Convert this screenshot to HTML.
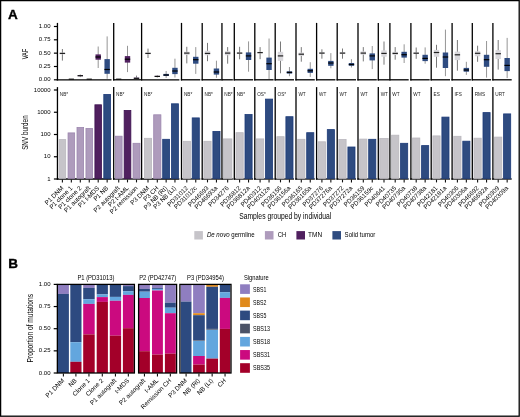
<!DOCTYPE html>
<html><head><meta charset="utf-8"><title>figure</title>
<style>html,body{margin:0;padding:0;background:#fff;}body{width:520px;height:417px;overflow:hidden;}</style>
</head><body>
<svg width="520" height="417" viewBox="0 0 520 417" style="display:block;font-family:'Liberation Sans', sans-serif;filter:blur(0.3px)">
<rect x="0" y="0" width="520" height="417" fill="#fff"/>
<text transform="translate(7.9,18.6)" font-size="13.5" text-anchor="start" fill="#000" font-weight="bold" stroke="#000" stroke-width="0.35">A</text>
<line x1="53.9" y1="26.5" x2="57.4" y2="26.5" stroke="#000" stroke-width="1.2"/>
<text transform="translate(50.5,28.1)" font-size="6" text-anchor="end" fill="#000">1.00</text>
<line x1="53.9" y1="39.8" x2="57.4" y2="39.8" stroke="#000" stroke-width="1.2"/>
<text transform="translate(50.5,41.4)" font-size="6" text-anchor="end" fill="#000">0.75</text>
<line x1="53.9" y1="53.15" x2="57.4" y2="53.15" stroke="#000" stroke-width="1.2"/>
<text transform="translate(50.5,54.75)" font-size="6" text-anchor="end" fill="#000">0.50</text>
<line x1="53.9" y1="66.5" x2="57.4" y2="66.5" stroke="#000" stroke-width="1.2"/>
<text transform="translate(50.5,68.1)" font-size="6" text-anchor="end" fill="#000">0.25</text>
<line x1="53.9" y1="79.8" x2="57.4" y2="79.8" stroke="#000" stroke-width="1.2"/>
<text transform="translate(50.5,81.4)" font-size="6" text-anchor="end" fill="#000">0.00</text>
<line x1="53.9" y1="90" x2="57.4" y2="90" stroke="#000" stroke-width="1.2"/>
<text transform="translate(50.5,91.6)" font-size="6" text-anchor="end" fill="#000">10000</text>
<line x1="53.9" y1="112.25" x2="57.4" y2="112.25" stroke="#000" stroke-width="1.2"/>
<text transform="translate(50.5,113.85)" font-size="6" text-anchor="end" fill="#000">1000</text>
<line x1="53.9" y1="134.5" x2="57.4" y2="134.5" stroke="#000" stroke-width="1.2"/>
<text transform="translate(50.5,136.1)" font-size="6" text-anchor="end" fill="#000">100</text>
<line x1="53.9" y1="156.75" x2="57.4" y2="156.75" stroke="#000" stroke-width="1.2"/>
<text transform="translate(50.5,158.35)" font-size="6" text-anchor="end" fill="#000">10</text>
<line x1="53.9" y1="179" x2="57.4" y2="179" stroke="#000" stroke-width="1.2"/>
<text transform="translate(50.5,180.6)" font-size="6" text-anchor="end" fill="#000">1</text>
<text transform="translate(28.3,54) rotate(-90) scale(0.6682,1)" font-size="8.4" text-anchor="middle" fill="#000">VAF</text>
<text transform="translate(28.3,132.6) rotate(-90) scale(0.7652,1)" font-size="8.3" text-anchor="middle" fill="#000">SNV burden</text>
<line x1="57.45" y1="22.9" x2="57.45" y2="80.45" stroke="#000" stroke-width="1.3"/>
<line x1="57.45" y1="87.1" x2="57.45" y2="179.65" stroke="#000" stroke-width="1.3"/>
<line x1="56.8" y1="79.8" x2="111.5" y2="79.8" stroke="#000" stroke-width="1.3"/>
<line x1="56.8" y1="179" x2="111.5" y2="179" stroke="#000" stroke-width="1.3"/>
<text transform="translate(59.85,95.6)" font-size="4.7" text-anchor="start" fill="#222">NB*</text>
<rect x="59.1" y="139.6" width="6.6" height="38.75" fill="#c6c4c9" stroke="#b9b7bd" stroke-width="0.8"/>
<line x1="62.4" y1="179.6" x2="62.4" y2="182.4" stroke="#111" stroke-width="1.1"/>
<line x1="62.4" y1="49" x2="62.4" y2="60.6" stroke="#6a6a6a" stroke-width="0.9"/>
<rect x="59.7" y="52.6" width="5.4" height="1.7" fill="#d9d8dc"/>
<line x1="59.7" y1="53.4" x2="65.1" y2="53.4" stroke="#222" stroke-width="1.2"/>
<rect x="68.05" y="132.9" width="6.6" height="45.45" fill="#ae9bbc" stroke="#9c86ae" stroke-width="0.8"/>
<line x1="71.35" y1="179.6" x2="71.35" y2="182.4" stroke="#111" stroke-width="1.1"/>
<line x1="68.75" y1="79.2" x2="73.95" y2="79.2" stroke="#111" stroke-width="1.2"/>
<rect x="77" y="127.5" width="6.6" height="50.85" fill="#ae9bbc" stroke="#9c86ae" stroke-width="0.8"/>
<line x1="80.3" y1="179.6" x2="80.3" y2="182.4" stroke="#111" stroke-width="1.1"/>
<line x1="80.3" y1="74.5" x2="80.3" y2="77.1" stroke="#777" stroke-width="0.9"/>
<rect x="77.6" y="75.1" width="5.4" height="1.2" fill="#ae9bbc"/>
<line x1="77.6" y1="75.7" x2="83" y2="75.7" stroke="#111" stroke-width="1.2"/>
<rect x="85.95" y="128.5" width="6.6" height="49.85" fill="#ae9bbc" stroke="#9c86ae" stroke-width="0.8"/>
<line x1="89.25" y1="179.6" x2="89.25" y2="182.4" stroke="#111" stroke-width="1.1"/>
<line x1="86.65" y1="79.2" x2="91.85" y2="79.2" stroke="#111" stroke-width="1.2"/>
<rect x="94.9" y="104.8" width="6.6" height="73.55" fill="#50205f" stroke="#3d1150" stroke-width="0.8"/>
<line x1="98.2" y1="179.6" x2="98.2" y2="182.4" stroke="#111" stroke-width="1.1"/>
<line x1="98.2" y1="46.5" x2="98.2" y2="68" stroke="#8a8a8a" stroke-width="0.9"/>
<rect x="95.5" y="54.4" width="5.4" height="5.3" fill="#50205f"/>
<line x1="95.5" y1="57" x2="100.9" y2="57" stroke="#000" stroke-width="1.2"/>
<rect x="103.8" y="94.4" width="6.7" height="83.95" fill="#2e4b80" stroke="#1c3a78" stroke-width="0.8"/>
<line x1="107.15" y1="179.6" x2="107.15" y2="182.4" stroke="#111" stroke-width="1.1"/>
<line x1="107.15" y1="36.4" x2="107.15" y2="78.8" stroke="#8a8a8a" stroke-width="0.9"/>
<rect x="104.45" y="59.1" width="5.4" height="14.7" fill="#2e4b80"/>
<line x1="104.45" y1="69.5" x2="109.85" y2="69.5" stroke="#000" stroke-width="1.2"/>
<line x1="113.7" y1="22.9" x2="113.7" y2="80.45" stroke="#000" stroke-width="1.3"/>
<line x1="113.7" y1="87.1" x2="113.7" y2="179.65" stroke="#000" stroke-width="1.3"/>
<line x1="113.05" y1="79.8" x2="140.95" y2="79.8" stroke="#000" stroke-width="1.3"/>
<line x1="113.05" y1="179" x2="140.95" y2="179" stroke="#000" stroke-width="1.3"/>
<text transform="translate(116.1,95.6)" font-size="4.7" text-anchor="start" fill="#222">NB*</text>
<rect x="115.35" y="136.2" width="6.75" height="42.15" fill="#ae9bbc" stroke="#9c86ae" stroke-width="0.8"/>
<line x1="118.72" y1="179.6" x2="118.72" y2="182.4" stroke="#111" stroke-width="1.1"/>
<line x1="116.12" y1="79.2" x2="121.32" y2="79.2" stroke="#111" stroke-width="1.2"/>
<rect x="124.15" y="110.4" width="6.7" height="67.95" fill="#50205f" stroke="#3d1150" stroke-width="0.8"/>
<line x1="127.5" y1="179.6" x2="127.5" y2="182.4" stroke="#111" stroke-width="1.1"/>
<line x1="127.5" y1="45.8" x2="127.5" y2="72.1" stroke="#8a8a8a" stroke-width="0.9"/>
<rect x="124.8" y="56.1" width="5.4" height="6.5" fill="#50205f"/>
<line x1="124.8" y1="59.2" x2="130.2" y2="59.2" stroke="#000" stroke-width="1.2"/>
<rect x="133.05" y="143.3" width="6.9" height="35.05" fill="#ae9bbc" stroke="#9c86ae" stroke-width="0.8"/>
<line x1="136.5" y1="179.6" x2="136.5" y2="182.4" stroke="#111" stroke-width="1.1"/>
<line x1="136.5" y1="75.6" x2="136.5" y2="79" stroke="#777" stroke-width="0.9"/>
<rect x="133.8" y="77.4" width="5.4" height="1.6" fill="#ae9bbc"/>
<line x1="133.8" y1="78.3" x2="139.2" y2="78.3" stroke="#111" stroke-width="1.2"/>
<line x1="141.6" y1="22.9" x2="141.6" y2="80.45" stroke="#000" stroke-width="1.3"/>
<line x1="141.6" y1="87.1" x2="141.6" y2="179.65" stroke="#000" stroke-width="1.3"/>
<line x1="140.95" y1="79.8" x2="179.4" y2="79.8" stroke="#000" stroke-width="1.3"/>
<line x1="140.95" y1="179" x2="179.4" y2="179" stroke="#000" stroke-width="1.3"/>
<text transform="translate(144,95.6)" font-size="4.7" text-anchor="start" fill="#222">NB*</text>
<rect x="144.4" y="138.3" width="7.2" height="40.05" fill="#c6c4c9" stroke="#b9b7bd" stroke-width="0.8"/>
<line x1="148" y1="179.6" x2="148" y2="182.4" stroke="#111" stroke-width="1.1"/>
<line x1="148" y1="48.6" x2="148" y2="58" stroke="#6a6a6a" stroke-width="0.9"/>
<rect x="145.3" y="52.6" width="5.4" height="1.7" fill="#d9d8dc"/>
<line x1="145.3" y1="53.4" x2="150.7" y2="53.4" stroke="#222" stroke-width="1.2"/>
<rect x="153.7" y="114.8" width="7.2" height="63.55" fill="#ae9bbc" stroke="#9c86ae" stroke-width="0.8"/>
<line x1="157.3" y1="179.6" x2="157.3" y2="182.4" stroke="#111" stroke-width="1.1"/>
<line x1="157.3" y1="75.3" x2="157.3" y2="77.5" stroke="#777" stroke-width="0.9"/>
<rect x="154.6" y="75.8" width="5.4" height="1.2" fill="#ae9bbc"/>
<line x1="154.6" y1="76.4" x2="160" y2="76.4" stroke="#111" stroke-width="1.2"/>
<rect x="162.7" y="139.3" width="6.9" height="39.05" fill="#2e4b80" stroke="#1c3a78" stroke-width="0.8"/>
<line x1="166.15" y1="179.6" x2="166.15" y2="182.4" stroke="#111" stroke-width="1.1"/>
<line x1="166.15" y1="71" x2="166.15" y2="77.9" stroke="#8a8a8a" stroke-width="0.9"/>
<rect x="163.45" y="73.9" width="5.4" height="2.1" fill="#2e4b80"/>
<line x1="163.45" y1="75" x2="168.85" y2="75" stroke="#000" stroke-width="1.2"/>
<rect x="171.5" y="103.8" width="6.9" height="74.55" fill="#2e4b80" stroke="#1c3a78" stroke-width="0.8"/>
<line x1="174.95" y1="179.6" x2="174.95" y2="182.4" stroke="#111" stroke-width="1.1"/>
<line x1="174.95" y1="58.7" x2="174.95" y2="77.5" stroke="#8a8a8a" stroke-width="0.9"/>
<rect x="172.25" y="67.8" width="5.4" height="6.3" fill="#2e4b80"/>
<line x1="172.25" y1="71" x2="177.65" y2="71" stroke="#000" stroke-width="1.2"/>
<line x1="181.5" y1="22.9" x2="181.5" y2="80.45" stroke="#000" stroke-width="1.3"/>
<line x1="181.5" y1="87.1" x2="181.5" y2="179.65" stroke="#000" stroke-width="1.3"/>
<line x1="180.85" y1="79.8" x2="200.3" y2="79.8" stroke="#000" stroke-width="1.3"/>
<line x1="180.85" y1="179" x2="200.3" y2="179" stroke="#000" stroke-width="1.3"/>
<text transform="translate(183.9,95.6)" font-size="4.7" text-anchor="start" fill="#222">NB*</text>
<rect x="183.2" y="141.3" width="7.2" height="37.05" fill="#c6c4c9" stroke="#b9b7bd" stroke-width="0.8"/>
<line x1="186.8" y1="179.6" x2="186.8" y2="182.4" stroke="#111" stroke-width="1.1"/>
<line x1="186.8" y1="46.8" x2="186.8" y2="63.4" stroke="#6a6a6a" stroke-width="0.9"/>
<rect x="184.1" y="51.7" width="5.4" height="3.2" fill="#d9d8dc"/>
<line x1="184.1" y1="53.1" x2="189.5" y2="53.1" stroke="#222" stroke-width="1.2"/>
<rect x="192.2" y="117.9" width="7.1" height="60.45" fill="#2e4b80" stroke="#1c3a78" stroke-width="0.8"/>
<line x1="195.75" y1="179.6" x2="195.75" y2="182.4" stroke="#111" stroke-width="1.1"/>
<line x1="195.75" y1="47.1" x2="195.75" y2="73.9" stroke="#8a8a8a" stroke-width="0.9"/>
<rect x="193.05" y="56.8" width="5.4" height="6.9" fill="#2e4b80"/>
<line x1="193.05" y1="59.7" x2="198.45" y2="59.7" stroke="#000" stroke-width="1.2"/>
<line x1="202.2" y1="22.9" x2="202.2" y2="80.45" stroke="#000" stroke-width="1.3"/>
<line x1="202.2" y1="87.1" x2="202.2" y2="179.65" stroke="#000" stroke-width="1.3"/>
<line x1="201.55" y1="79.8" x2="221" y2="79.8" stroke="#000" stroke-width="1.3"/>
<line x1="201.55" y1="179" x2="221" y2="179" stroke="#000" stroke-width="1.3"/>
<text transform="translate(204.6,95.6)" font-size="4.7" text-anchor="start" fill="#222">NB*</text>
<rect x="203.9" y="141.3" width="7.2" height="37.05" fill="#c6c4c9" stroke="#b9b7bd" stroke-width="0.8"/>
<line x1="207.5" y1="179.6" x2="207.5" y2="182.4" stroke="#111" stroke-width="1.1"/>
<line x1="207.5" y1="42.9" x2="207.5" y2="61.2" stroke="#6a6a6a" stroke-width="0.9"/>
<rect x="204.8" y="50.8" width="5.4" height="4.5" fill="#d9d8dc"/>
<line x1="204.8" y1="53.4" x2="210.2" y2="53.4" stroke="#222" stroke-width="1.2"/>
<rect x="212.9" y="131.4" width="7.1" height="46.95" fill="#2e4b80" stroke="#1c3a78" stroke-width="0.8"/>
<line x1="216.45" y1="179.6" x2="216.45" y2="182.4" stroke="#111" stroke-width="1.1"/>
<line x1="216.45" y1="60.7" x2="216.45" y2="77.8" stroke="#8a8a8a" stroke-width="0.9"/>
<rect x="213.75" y="68.5" width="5.4" height="6.1" fill="#2e4b80"/>
<line x1="213.75" y1="72" x2="219.15" y2="72" stroke="#000" stroke-width="1.2"/>
<line x1="221.95" y1="22.9" x2="221.95" y2="80.45" stroke="#000" stroke-width="1.3"/>
<line x1="221.95" y1="87.1" x2="221.95" y2="179.65" stroke="#000" stroke-width="1.3"/>
<line x1="221.3" y1="79.8" x2="232.85" y2="79.8" stroke="#000" stroke-width="1.3"/>
<line x1="221.3" y1="179" x2="232.85" y2="179" stroke="#000" stroke-width="1.3"/>
<text transform="translate(224.35,95.6)" font-size="4.7" text-anchor="start" fill="#222">NB*</text>
<rect x="223.45" y="138.9" width="8.4" height="39.45" fill="#c6c4c9" stroke="#b9b7bd" stroke-width="0.8"/>
<line x1="227.65" y1="179.6" x2="227.65" y2="182.4" stroke="#111" stroke-width="1.1"/>
<line x1="227.65" y1="47.1" x2="227.65" y2="63.7" stroke="#6a6a6a" stroke-width="0.9"/>
<rect x="224.95" y="51.2" width="5.4" height="4.1" fill="#d9d8dc"/>
<line x1="224.95" y1="53.1" x2="230.35" y2="53.1" stroke="#222" stroke-width="1.2"/>
<line x1="234.3" y1="22.9" x2="234.3" y2="80.45" stroke="#000" stroke-width="1.3"/>
<line x1="234.3" y1="87.1" x2="234.3" y2="179.65" stroke="#000" stroke-width="1.3"/>
<line x1="233.65" y1="79.8" x2="253.1" y2="79.8" stroke="#000" stroke-width="1.3"/>
<line x1="233.65" y1="179" x2="253.1" y2="179" stroke="#000" stroke-width="1.3"/>
<text transform="translate(236.7,95.6)" font-size="4.7" text-anchor="start" fill="#222">NB*</text>
<rect x="236" y="132.7" width="7.2" height="45.65" fill="#c6c4c9" stroke="#b9b7bd" stroke-width="0.8"/>
<line x1="239.6" y1="179.6" x2="239.6" y2="182.4" stroke="#111" stroke-width="1.1"/>
<line x1="239.6" y1="46.8" x2="239.6" y2="59.3" stroke="#6a6a6a" stroke-width="0.9"/>
<rect x="236.9" y="52.3" width="5.4" height="1.7" fill="#d9d8dc"/>
<line x1="236.9" y1="53.1" x2="242.3" y2="53.1" stroke="#222" stroke-width="1.2"/>
<rect x="245" y="114.5" width="7.1" height="63.85" fill="#2e4b80" stroke="#1c3a78" stroke-width="0.8"/>
<line x1="248.55" y1="179.6" x2="248.55" y2="182.4" stroke="#111" stroke-width="1.1"/>
<line x1="248.55" y1="41.4" x2="248.55" y2="71.7" stroke="#8a8a8a" stroke-width="0.9"/>
<rect x="245.85" y="52.4" width="5.4" height="7.6" fill="#2e4b80"/>
<line x1="245.85" y1="55.9" x2="251.25" y2="55.9" stroke="#000" stroke-width="1.2"/>
<line x1="254.8" y1="22.9" x2="254.8" y2="80.45" stroke="#000" stroke-width="1.3"/>
<line x1="254.8" y1="87.1" x2="254.8" y2="179.65" stroke="#000" stroke-width="1.3"/>
<line x1="254.15" y1="79.8" x2="273.6" y2="79.8" stroke="#000" stroke-width="1.3"/>
<line x1="254.15" y1="179" x2="273.6" y2="179" stroke="#000" stroke-width="1.3"/>
<text transform="translate(257.2,95.6)" font-size="4.7" text-anchor="start" fill="#222">OS*</text>
<rect x="256.5" y="138.9" width="7.2" height="39.45" fill="#c6c4c9" stroke="#b9b7bd" stroke-width="0.8"/>
<line x1="260.1" y1="179.6" x2="260.1" y2="182.4" stroke="#111" stroke-width="1.1"/>
<line x1="260.1" y1="47.1" x2="260.1" y2="59.2" stroke="#6a6a6a" stroke-width="0.9"/>
<rect x="257.4" y="51.8" width="5.4" height="1.6" fill="#d9d8dc"/>
<line x1="257.4" y1="52.6" x2="262.8" y2="52.6" stroke="#222" stroke-width="1.2"/>
<rect x="265.5" y="99.1" width="7.1" height="79.25" fill="#2e4b80" stroke="#1c3a78" stroke-width="0.8"/>
<line x1="269.05" y1="179.6" x2="269.05" y2="182.4" stroke="#111" stroke-width="1.1"/>
<line x1="269.05" y1="38.5" x2="269.05" y2="79" stroke="#8a8a8a" stroke-width="0.9"/>
<rect x="266.35" y="57.6" width="5.4" height="12.4" fill="#2e4b80"/>
<line x1="266.35" y1="63.7" x2="271.75" y2="63.7" stroke="#000" stroke-width="1.2"/>
<line x1="275.2" y1="22.9" x2="275.2" y2="80.45" stroke="#000" stroke-width="1.3"/>
<line x1="275.2" y1="87.1" x2="275.2" y2="179.65" stroke="#000" stroke-width="1.3"/>
<line x1="274.55" y1="79.8" x2="294" y2="79.8" stroke="#000" stroke-width="1.3"/>
<line x1="274.55" y1="179" x2="294" y2="179" stroke="#000" stroke-width="1.3"/>
<text transform="translate(277.6,95.6)" font-size="4.7" text-anchor="start" fill="#222">OS*</text>
<rect x="276.9" y="136.7" width="7.2" height="41.65" fill="#c6c4c9" stroke="#b9b7bd" stroke-width="0.8"/>
<line x1="280.5" y1="179.6" x2="280.5" y2="182.4" stroke="#111" stroke-width="1.1"/>
<line x1="280.5" y1="41.5" x2="280.5" y2="73.3" stroke="#6a6a6a" stroke-width="0.9"/>
<rect x="277.8" y="51.8" width="5.4" height="9.1" fill="#d9d8dc"/>
<line x1="277.8" y1="55.9" x2="283.2" y2="55.9" stroke="#222" stroke-width="1.2"/>
<rect x="285.9" y="116.7" width="7.1" height="61.65" fill="#2e4b80" stroke="#1c3a78" stroke-width="0.8"/>
<line x1="289.45" y1="179.6" x2="289.45" y2="182.4" stroke="#111" stroke-width="1.1"/>
<line x1="289.45" y1="67" x2="289.45" y2="76.2" stroke="#8a8a8a" stroke-width="0.9"/>
<rect x="286.75" y="71.3" width="5.4" height="2.3" fill="#2e4b80"/>
<line x1="286.75" y1="72.4" x2="292.15" y2="72.4" stroke="#000" stroke-width="1.2"/>
<line x1="296" y1="22.9" x2="296" y2="80.45" stroke="#000" stroke-width="1.3"/>
<line x1="296" y1="87.1" x2="296" y2="179.65" stroke="#000" stroke-width="1.3"/>
<line x1="295.35" y1="79.8" x2="314.8" y2="79.8" stroke="#000" stroke-width="1.3"/>
<line x1="295.35" y1="179" x2="314.8" y2="179" stroke="#000" stroke-width="1.3"/>
<text transform="translate(298.4,95.6)" font-size="4.7" text-anchor="start" fill="#222">WT</text>
<rect x="297.7" y="139.3" width="7.2" height="39.05" fill="#c6c4c9" stroke="#b9b7bd" stroke-width="0.8"/>
<line x1="301.3" y1="179.6" x2="301.3" y2="182.4" stroke="#111" stroke-width="1.1"/>
<line x1="301.3" y1="47.1" x2="301.3" y2="61.7" stroke="#6a6a6a" stroke-width="0.9"/>
<rect x="298.6" y="52.6" width="5.4" height="3.3" fill="#d9d8dc"/>
<line x1="298.6" y1="54.2" x2="304" y2="54.2" stroke="#222" stroke-width="1.2"/>
<rect x="306.7" y="132.7" width="7.1" height="45.65" fill="#2e4b80" stroke="#1c3a78" stroke-width="0.8"/>
<line x1="310.25" y1="179.6" x2="310.25" y2="182.4" stroke="#111" stroke-width="1.1"/>
<line x1="310.25" y1="62.2" x2="310.25" y2="76.9" stroke="#8a8a8a" stroke-width="0.9"/>
<rect x="307.55" y="68.8" width="5.4" height="4.1" fill="#2e4b80"/>
<line x1="307.55" y1="70.8" x2="312.95" y2="70.8" stroke="#000" stroke-width="1.2"/>
<line x1="316.6" y1="22.9" x2="316.6" y2="80.45" stroke="#000" stroke-width="1.3"/>
<line x1="316.6" y1="87.1" x2="316.6" y2="179.65" stroke="#000" stroke-width="1.3"/>
<line x1="315.95" y1="79.8" x2="335.4" y2="79.8" stroke="#000" stroke-width="1.3"/>
<line x1="315.95" y1="179" x2="335.4" y2="179" stroke="#000" stroke-width="1.3"/>
<text transform="translate(319,95.6)" font-size="4.7" text-anchor="start" fill="#222">WT</text>
<rect x="318.3" y="141.8" width="7.2" height="36.55" fill="#c6c4c9" stroke="#b9b7bd" stroke-width="0.8"/>
<line x1="321.9" y1="179.6" x2="321.9" y2="182.4" stroke="#111" stroke-width="1.1"/>
<line x1="321.9" y1="49.3" x2="321.9" y2="58.7" stroke="#6a6a6a" stroke-width="0.9"/>
<rect x="319.2" y="52.3" width="5.4" height="1.6" fill="#d9d8dc"/>
<line x1="319.2" y1="53.1" x2="324.6" y2="53.1" stroke="#222" stroke-width="1.2"/>
<rect x="327.3" y="129.6" width="7.1" height="48.75" fill="#2e4b80" stroke="#1c3a78" stroke-width="0.8"/>
<line x1="330.85" y1="179.6" x2="330.85" y2="182.4" stroke="#111" stroke-width="1.1"/>
<line x1="330.85" y1="53.1" x2="330.85" y2="68.3" stroke="#8a8a8a" stroke-width="0.9"/>
<rect x="328.15" y="60.9" width="5.4" height="4.9" fill="#2e4b80"/>
<line x1="328.15" y1="63" x2="333.55" y2="63" stroke="#000" stroke-width="1.2"/>
<line x1="337.2" y1="22.9" x2="337.2" y2="80.45" stroke="#000" stroke-width="1.3"/>
<line x1="337.2" y1="87.1" x2="337.2" y2="179.65" stroke="#000" stroke-width="1.3"/>
<line x1="336.55" y1="79.8" x2="356" y2="79.8" stroke="#000" stroke-width="1.3"/>
<line x1="336.55" y1="179" x2="356" y2="179" stroke="#000" stroke-width="1.3"/>
<text transform="translate(339.6,95.6)" font-size="4.7" text-anchor="start" fill="#222">WT</text>
<rect x="338.9" y="139.5" width="7.2" height="38.85" fill="#c6c4c9" stroke="#b9b7bd" stroke-width="0.8"/>
<line x1="342.5" y1="179.6" x2="342.5" y2="182.4" stroke="#111" stroke-width="1.1"/>
<line x1="342.5" y1="48.5" x2="342.5" y2="58.7" stroke="#6a6a6a" stroke-width="0.9"/>
<rect x="339.8" y="52.3" width="5.4" height="1.6" fill="#d9d8dc"/>
<line x1="339.8" y1="53.1" x2="345.2" y2="53.1" stroke="#222" stroke-width="1.2"/>
<rect x="347.9" y="147" width="7.1" height="31.35" fill="#2e4b80" stroke="#1c3a78" stroke-width="0.8"/>
<line x1="351.45" y1="179.6" x2="351.45" y2="182.4" stroke="#111" stroke-width="1.1"/>
<line x1="351.45" y1="59.2" x2="351.45" y2="67.5" stroke="#8a8a8a" stroke-width="0.9"/>
<rect x="348.75" y="63" width="5.4" height="2.8" fill="#2e4b80"/>
<line x1="348.75" y1="64.5" x2="354.15" y2="64.5" stroke="#000" stroke-width="1.2"/>
<line x1="358" y1="22.9" x2="358" y2="80.45" stroke="#000" stroke-width="1.3"/>
<line x1="358" y1="87.1" x2="358" y2="179.65" stroke="#000" stroke-width="1.3"/>
<line x1="357.35" y1="79.8" x2="376.8" y2="79.8" stroke="#000" stroke-width="1.3"/>
<line x1="357.35" y1="179" x2="376.8" y2="179" stroke="#000" stroke-width="1.3"/>
<text transform="translate(360.4,95.6)" font-size="4.7" text-anchor="start" fill="#222">WT</text>
<rect x="359.7" y="139.1" width="7.2" height="39.25" fill="#c6c4c9" stroke="#b9b7bd" stroke-width="0.8"/>
<line x1="363.3" y1="179.6" x2="363.3" y2="182.4" stroke="#111" stroke-width="1.1"/>
<line x1="363.3" y1="47.1" x2="363.3" y2="61.4" stroke="#6a6a6a" stroke-width="0.9"/>
<rect x="360.6" y="51.4" width="5.4" height="3.3" fill="#d9d8dc"/>
<line x1="360.6" y1="53.1" x2="366" y2="53.1" stroke="#222" stroke-width="1.2"/>
<rect x="368.7" y="139.3" width="7.1" height="39.05" fill="#2e4b80" stroke="#1c3a78" stroke-width="0.8"/>
<line x1="372.25" y1="179.6" x2="372.25" y2="182.4" stroke="#111" stroke-width="1.1"/>
<line x1="372.25" y1="46" x2="372.25" y2="69.1" stroke="#8a8a8a" stroke-width="0.9"/>
<rect x="369.55" y="53.4" width="5.4" height="7" fill="#2e4b80"/>
<line x1="369.55" y1="55.9" x2="374.95" y2="55.9" stroke="#000" stroke-width="1.2"/>
<line x1="378.3" y1="22.9" x2="378.3" y2="80.45" stroke="#000" stroke-width="1.3"/>
<line x1="378.3" y1="87.1" x2="378.3" y2="179.65" stroke="#000" stroke-width="1.3"/>
<line x1="377.65" y1="79.8" x2="389.2" y2="79.8" stroke="#000" stroke-width="1.3"/>
<line x1="377.65" y1="179" x2="389.2" y2="179" stroke="#000" stroke-width="1.3"/>
<text transform="translate(380.7,95.6)" font-size="4.7" text-anchor="start" fill="#222">WT</text>
<rect x="379.8" y="138.5" width="8.4" height="39.85" fill="#c6c4c9" stroke="#b9b7bd" stroke-width="0.8"/>
<line x1="384" y1="179.6" x2="384" y2="182.4" stroke="#111" stroke-width="1.1"/>
<line x1="384" y1="41.5" x2="384" y2="64.7" stroke="#6a6a6a" stroke-width="0.9"/>
<rect x="381.3" y="50.4" width="5.4" height="6.3" fill="#d9d8dc"/>
<line x1="381.3" y1="53.4" x2="386.7" y2="53.4" stroke="#222" stroke-width="1.2"/>
<line x1="389.9" y1="22.9" x2="389.9" y2="80.45" stroke="#000" stroke-width="1.3"/>
<line x1="389.9" y1="87.1" x2="389.9" y2="179.65" stroke="#000" stroke-width="1.3"/>
<line x1="389.25" y1="79.8" x2="408.7" y2="79.8" stroke="#000" stroke-width="1.3"/>
<line x1="389.25" y1="179" x2="408.7" y2="179" stroke="#000" stroke-width="1.3"/>
<text transform="translate(392.3,95.6)" font-size="4.7" text-anchor="start" fill="#222">WT</text>
<rect x="391.6" y="135.2" width="7.2" height="43.15" fill="#c6c4c9" stroke="#b9b7bd" stroke-width="0.8"/>
<line x1="395.2" y1="179.6" x2="395.2" y2="182.4" stroke="#111" stroke-width="1.1"/>
<line x1="395.2" y1="47.1" x2="395.2" y2="59.7" stroke="#6a6a6a" stroke-width="0.9"/>
<rect x="392.5" y="51.8" width="5.4" height="3.2" fill="#d9d8dc"/>
<line x1="392.5" y1="53.4" x2="397.9" y2="53.4" stroke="#222" stroke-width="1.2"/>
<rect x="400.6" y="143.3" width="7.1" height="35.05" fill="#2e4b80" stroke="#1c3a78" stroke-width="0.8"/>
<line x1="404.15" y1="179.6" x2="404.15" y2="182.4" stroke="#111" stroke-width="1.1"/>
<line x1="404.15" y1="44.3" x2="404.15" y2="63" stroke="#8a8a8a" stroke-width="0.9"/>
<rect x="401.45" y="51.8" width="5.4" height="5.8" fill="#2e4b80"/>
<line x1="401.45" y1="54.7" x2="406.85" y2="54.7" stroke="#000" stroke-width="1.2"/>
<line x1="410.9" y1="22.9" x2="410.9" y2="80.45" stroke="#000" stroke-width="1.3"/>
<line x1="410.9" y1="87.1" x2="410.9" y2="179.65" stroke="#000" stroke-width="1.3"/>
<line x1="410.25" y1="79.8" x2="429.7" y2="79.8" stroke="#000" stroke-width="1.3"/>
<line x1="410.25" y1="179" x2="429.7" y2="179" stroke="#000" stroke-width="1.3"/>
<text transform="translate(413.3,95.6)" font-size="4.7" text-anchor="start" fill="#222">WT</text>
<rect x="412.6" y="138" width="7.2" height="40.35" fill="#c6c4c9" stroke="#b9b7bd" stroke-width="0.8"/>
<line x1="416.2" y1="179.6" x2="416.2" y2="182.4" stroke="#111" stroke-width="1.1"/>
<line x1="416.2" y1="47.5" x2="416.2" y2="58.8" stroke="#6a6a6a" stroke-width="0.9"/>
<rect x="413.5" y="52.4" width="5.4" height="1.6" fill="#d9d8dc"/>
<line x1="413.5" y1="53.2" x2="418.9" y2="53.2" stroke="#222" stroke-width="1.2"/>
<rect x="421.6" y="145.6" width="7.1" height="32.75" fill="#2e4b80" stroke="#1c3a78" stroke-width="0.8"/>
<line x1="425.15" y1="179.6" x2="425.15" y2="182.4" stroke="#111" stroke-width="1.1"/>
<line x1="425.15" y1="47.4" x2="425.15" y2="63.7" stroke="#8a8a8a" stroke-width="0.9"/>
<rect x="422.45" y="54.8" width="5.4" height="6.3" fill="#2e4b80"/>
<line x1="422.45" y1="58.4" x2="427.85" y2="58.4" stroke="#000" stroke-width="1.2"/>
<line x1="431.2" y1="22.9" x2="431.2" y2="80.45" stroke="#000" stroke-width="1.3"/>
<line x1="431.2" y1="87.1" x2="431.2" y2="179.65" stroke="#000" stroke-width="1.3"/>
<line x1="430.55" y1="79.8" x2="450" y2="79.8" stroke="#000" stroke-width="1.3"/>
<line x1="430.55" y1="179" x2="450" y2="179" stroke="#000" stroke-width="1.3"/>
<text transform="translate(433.6,95.6)" font-size="4.7" text-anchor="start" fill="#222">ES</text>
<rect x="432.9" y="135.9" width="7.2" height="42.45" fill="#c6c4c9" stroke="#b9b7bd" stroke-width="0.8"/>
<line x1="436.5" y1="179.6" x2="436.5" y2="182.4" stroke="#111" stroke-width="1.1"/>
<line x1="436.5" y1="44.8" x2="436.5" y2="67.7" stroke="#6a6a6a" stroke-width="0.9"/>
<rect x="433.8" y="49.9" width="5.4" height="6.9" fill="#d9d8dc"/>
<line x1="433.8" y1="52.5" x2="439.2" y2="52.5" stroke="#222" stroke-width="1.2"/>
<rect x="441.9" y="117.1" width="7.1" height="61.25" fill="#2e4b80" stroke="#1c3a78" stroke-width="0.8"/>
<line x1="445.45" y1="179.6" x2="445.45" y2="182.4" stroke="#111" stroke-width="1.1"/>
<line x1="445.45" y1="29.6" x2="445.45" y2="76.2" stroke="#8a8a8a" stroke-width="0.9"/>
<rect x="442.75" y="52.5" width="5.4" height="15.5" fill="#2e4b80"/>
<line x1="442.75" y1="57" x2="448.15" y2="57" stroke="#000" stroke-width="1.2"/>
<line x1="452.1" y1="22.9" x2="452.1" y2="80.45" stroke="#000" stroke-width="1.3"/>
<line x1="452.1" y1="87.1" x2="452.1" y2="179.65" stroke="#000" stroke-width="1.3"/>
<line x1="451.45" y1="79.8" x2="470.9" y2="79.8" stroke="#000" stroke-width="1.3"/>
<line x1="451.45" y1="179" x2="470.9" y2="179" stroke="#000" stroke-width="1.3"/>
<text transform="translate(454.5,95.6)" font-size="4.7" text-anchor="start" fill="#222">IFS</text>
<rect x="453.8" y="136.3" width="7.2" height="42.05" fill="#c6c4c9" stroke="#b9b7bd" stroke-width="0.8"/>
<line x1="457.4" y1="179.6" x2="457.4" y2="182.4" stroke="#111" stroke-width="1.1"/>
<line x1="457.4" y1="40" x2="457.4" y2="70.7" stroke="#6a6a6a" stroke-width="0.9"/>
<rect x="454.7" y="51.6" width="5.4" height="8.5" fill="#d9d8dc"/>
<line x1="454.7" y1="54.8" x2="460.1" y2="54.8" stroke="#222" stroke-width="1.2"/>
<rect x="462.8" y="141.2" width="7.1" height="37.15" fill="#2e4b80" stroke="#1c3a78" stroke-width="0.8"/>
<line x1="466.35" y1="179.6" x2="466.35" y2="182.4" stroke="#111" stroke-width="1.1"/>
<line x1="466.35" y1="61.8" x2="466.35" y2="74.9" stroke="#8a8a8a" stroke-width="0.9"/>
<rect x="463.65" y="67.9" width="5.4" height="3.8" fill="#2e4b80"/>
<line x1="463.65" y1="70" x2="469.05" y2="70" stroke="#000" stroke-width="1.2"/>
<line x1="472.3" y1="22.9" x2="472.3" y2="80.45" stroke="#000" stroke-width="1.3"/>
<line x1="472.3" y1="87.1" x2="472.3" y2="179.65" stroke="#000" stroke-width="1.3"/>
<line x1="471.65" y1="79.8" x2="491.1" y2="79.8" stroke="#000" stroke-width="1.3"/>
<line x1="471.65" y1="179" x2="491.1" y2="179" stroke="#000" stroke-width="1.3"/>
<text transform="translate(474.7,95.6)" font-size="4.7" text-anchor="start" fill="#222">RMS</text>
<rect x="474" y="138.2" width="7.2" height="40.15" fill="#c6c4c9" stroke="#b9b7bd" stroke-width="0.8"/>
<line x1="477.6" y1="179.6" x2="477.6" y2="182.4" stroke="#111" stroke-width="1.1"/>
<line x1="477.6" y1="45.7" x2="477.6" y2="61.8" stroke="#6a6a6a" stroke-width="0.9"/>
<rect x="474.9" y="51.2" width="5.4" height="5.1" fill="#d9d8dc"/>
<line x1="474.9" y1="53.3" x2="480.3" y2="53.3" stroke="#222" stroke-width="1.2"/>
<rect x="483" y="112.6" width="7.1" height="65.75" fill="#2e4b80" stroke="#1c3a78" stroke-width="0.8"/>
<line x1="486.55" y1="179.6" x2="486.55" y2="182.4" stroke="#111" stroke-width="1.1"/>
<line x1="486.55" y1="41" x2="486.55" y2="77.6" stroke="#8a8a8a" stroke-width="0.9"/>
<rect x="483.85" y="54.8" width="5.4" height="12" fill="#2e4b80"/>
<line x1="483.85" y1="59.7" x2="489.25" y2="59.7" stroke="#000" stroke-width="1.2"/>
<line x1="492.9" y1="22.9" x2="492.9" y2="80.45" stroke="#000" stroke-width="1.3"/>
<line x1="492.9" y1="87.1" x2="492.9" y2="179.65" stroke="#000" stroke-width="1.3"/>
<line x1="492.25" y1="79.8" x2="511.7" y2="79.8" stroke="#000" stroke-width="1.3"/>
<line x1="492.25" y1="179" x2="511.7" y2="179" stroke="#000" stroke-width="1.3"/>
<text transform="translate(495.3,95.6)" font-size="4.7" text-anchor="start" fill="#222">URT</text>
<rect x="494.6" y="137.1" width="7.2" height="41.25" fill="#c6c4c9" stroke="#b9b7bd" stroke-width="0.8"/>
<line x1="498.2" y1="179.6" x2="498.2" y2="182.4" stroke="#111" stroke-width="1.1"/>
<line x1="498.2" y1="40" x2="498.2" y2="69.6" stroke="#6a6a6a" stroke-width="0.9"/>
<rect x="495.5" y="50.1" width="5.4" height="8.9" fill="#d9d8dc"/>
<line x1="495.5" y1="53.7" x2="500.9" y2="53.7" stroke="#222" stroke-width="1.2"/>
<rect x="503.6" y="113.9" width="7.1" height="64.45" fill="#2e4b80" stroke="#1c3a78" stroke-width="0.8"/>
<line x1="507.15" y1="179.6" x2="507.15" y2="182.4" stroke="#111" stroke-width="1.1"/>
<line x1="507.15" y1="37.9" x2="507.15" y2="78.1" stroke="#8a8a8a" stroke-width="0.9"/>
<rect x="504.45" y="58" width="5.4" height="13.1" fill="#2e4b80"/>
<line x1="504.45" y1="65.4" x2="509.85" y2="65.4" stroke="#000" stroke-width="1.2"/>
<text transform="translate(64,188.5) rotate(-45)" font-size="6.3" text-anchor="end" fill="#000">P1 DNM</text>
<text transform="translate(72.95,188.5) rotate(-45)" font-size="6.3" text-anchor="end" fill="#000">P1 clone 1</text>
<text transform="translate(81.9,188.5) rotate(-45)" font-size="6.3" text-anchor="end" fill="#000">P1 clone 2</text>
<text transform="translate(90.85,188.5) rotate(-45)" font-size="6.3" text-anchor="end" fill="#000">P1 autograft</text>
<text transform="translate(99.8,188.5) rotate(-45)" font-size="6.3" text-anchor="end" fill="#000">P1 t-MDS</text>
<text transform="translate(108.75,188.5) rotate(-45)" font-size="6.3" text-anchor="end" fill="#000">P1 NB</text>
<text transform="translate(120.32,188.5) rotate(-45)" font-size="6.3" text-anchor="end" fill="#000">P2 autograft</text>
<text transform="translate(129.1,188.5) rotate(-45)" font-size="6.3" text-anchor="end" fill="#000">P2 t-AML</text>
<text transform="translate(138.1,188.5) rotate(-45)" font-size="6.3" text-anchor="end" fill="#000">P2 remission</text>
<text transform="translate(149.6,188.5) rotate(-45)" font-size="6.3" text-anchor="end" fill="#000">P3 DNM</text>
<text transform="translate(158.9,188.5) rotate(-45)" font-size="6.3" text-anchor="end" fill="#000">P3 CH</text>
<text transform="translate(167.75,188.5) rotate(-45)" font-size="6.3" text-anchor="end" fill="#000">P3 NB (Rt)</text>
<text transform="translate(176.55,188.5) rotate(-45)" font-size="6.3" text-anchor="end" fill="#000">P3 NB (Lt)</text>
<text transform="translate(188.4,188.5) rotate(-45)" font-size="6.3" text-anchor="end" fill="#000">PD31012</text>
<text transform="translate(197.35,188.5) rotate(-45)" font-size="6.3" text-anchor="end" fill="#000">PD31012c</text>
<text transform="translate(209.1,188.5) rotate(-45)" font-size="6.3" text-anchor="end" fill="#000">PD46693</text>
<text transform="translate(218.05,188.5) rotate(-45)" font-size="6.3" text-anchor="end" fill="#000">PD46693a</text>
<text transform="translate(229.25,188.5) rotate(-45)" font-size="6.3" text-anchor="end" fill="#000">PD34276</text>
<text transform="translate(241.2,188.5) rotate(-45)" font-size="6.3" text-anchor="end" fill="#000">PD36812</text>
<text transform="translate(250.15,188.5) rotate(-45)" font-size="6.3" text-anchor="end" fill="#000">PD36812a</text>
<text transform="translate(261.7,188.5) rotate(-45)" font-size="6.3" text-anchor="end" fill="#000">PD40312</text>
<text transform="translate(270.65,188.5) rotate(-45)" font-size="6.3" text-anchor="end" fill="#000">PD40312e</text>
<text transform="translate(282.1,188.5) rotate(-45)" font-size="6.3" text-anchor="end" fill="#000">PD36156</text>
<text transform="translate(291.05,188.5) rotate(-45)" font-size="6.3" text-anchor="end" fill="#000">PD36156a</text>
<text transform="translate(302.9,188.5) rotate(-45)" font-size="6.3" text-anchor="end" fill="#000">PD36165</text>
<text transform="translate(311.85,188.5) rotate(-45)" font-size="6.3" text-anchor="end" fill="#000">PD36165a</text>
<text transform="translate(323.5,188.5) rotate(-45)" font-size="6.3" text-anchor="end" fill="#000">PD37276</text>
<text transform="translate(332.45,188.5) rotate(-45)" font-size="6.3" text-anchor="end" fill="#000">PD37276a</text>
<text transform="translate(344.1,188.5) rotate(-45)" font-size="6.3" text-anchor="end" fill="#000">PD37272</text>
<text transform="translate(353.05,188.5) rotate(-45)" font-size="6.3" text-anchor="end" fill="#000">PD37272a</text>
<text transform="translate(364.9,188.5) rotate(-45)" font-size="6.3" text-anchor="end" fill="#000">PD36159</text>
<text transform="translate(373.85,188.5) rotate(-45)" font-size="6.3" text-anchor="end" fill="#000">PD36159c</text>
<text transform="translate(385.6,188.5) rotate(-45)" font-size="6.3" text-anchor="end" fill="#000">PD40641</text>
<text transform="translate(396.8,188.5) rotate(-45)" font-size="6.3" text-anchor="end" fill="#000">PD40735</text>
<text transform="translate(405.75,188.5) rotate(-45)" font-size="6.3" text-anchor="end" fill="#000">PD40735a</text>
<text transform="translate(417.8,188.5) rotate(-45)" font-size="6.3" text-anchor="end" fill="#000">PD40738</text>
<text transform="translate(426.75,188.5) rotate(-45)" font-size="6.3" text-anchor="end" fill="#000">PD40738a</text>
<text transform="translate(438.1,188.5) rotate(-45)" font-size="6.3" text-anchor="end" fill="#000">PD42181</text>
<text transform="translate(447.05,188.5) rotate(-45)" font-size="6.3" text-anchor="end" fill="#000">PD42181a</text>
<text transform="translate(459,188.5) rotate(-45)" font-size="6.3" text-anchor="end" fill="#000">PD40306</text>
<text transform="translate(467.95,188.5) rotate(-45)" font-size="6.3" text-anchor="end" fill="#000">PD40306a</text>
<text transform="translate(479.2,188.5) rotate(-45)" font-size="6.3" text-anchor="end" fill="#000">PD46692</text>
<text transform="translate(488.15,188.5) rotate(-45)" font-size="6.3" text-anchor="end" fill="#000">PD46692a</text>
<text transform="translate(499.8,188.5) rotate(-45)" font-size="6.3" text-anchor="end" fill="#000">PD40309</text>
<text transform="translate(508.75,188.5) rotate(-45)" font-size="6.3" text-anchor="end" fill="#000">PD40309a</text>
<text transform="translate(239.2,218.7) scale(0.7693,1)" font-size="8.8" text-anchor="start" fill="#000">Samples grouped by individual</text>
<rect x="194.3" y="231.1" width="8.6" height="8.4" fill="#c6c4c9"/>
<rect x="264.9" y="231.1" width="8.6" height="8.4" fill="#ae9bbc"/>
<rect x="296.4" y="231.1" width="8.6" height="8.4" fill="#50205f"/>
<rect x="332.4" y="231.1" width="8.6" height="8.4" fill="#2e4b80"/>
<text transform="translate(206.9,237) scale(0.9681,1)" font-size="6.3" fill="#000"><tspan font-style="italic">De novo</tspan> germline</text>
<text transform="translate(277.7,237) scale(0.9231,1)" font-size="6.3" text-anchor="start" fill="#000">CH</text>
<text transform="translate(308.1,237) scale(1.0259,1)" font-size="6.3" text-anchor="start" fill="#000">TMN</text>
<text transform="translate(344.6,237) scale(0.9666,1)" font-size="6.3" text-anchor="start" fill="#000">Solid tumor</text>
<text transform="translate(8.3,267.9)" font-size="13.5" text-anchor="start" fill="#000" font-weight="bold" stroke="#000" stroke-width="0.35">B</text>
<rect x="57.9" y="284.4" width="11" height="9.5" fill="#8f7ec0"/>
<rect x="57.9" y="293.9" width="11" height="79.1" fill="#2d4a80"/>
<rect x="70.3" y="284.4" width="11.2" height="57.8" fill="#2d4a80"/>
<rect x="70.3" y="342.2" width="11.2" height="19.6" fill="#63a6de"/>
<rect x="70.3" y="361.8" width="11.2" height="11.2" fill="#a30029"/>
<rect x="83.2" y="284.4" width="11.5" height="3.5" fill="#8f7ec0"/>
<rect x="83.2" y="287.9" width="11.5" height="11.3" fill="#2d4a80"/>
<rect x="83.2" y="299.2" width="11.5" height="4.7" fill="#63a6de"/>
<rect x="83.2" y="303.9" width="11.5" height="30.5" fill="#cb0a7f"/>
<rect x="83.2" y="334.4" width="11.5" height="38.6" fill="#a30029"/>
<rect x="96.7" y="284.4" width="11.2" height="10" fill="#2d4a80"/>
<rect x="96.7" y="294.4" width="11.2" height="2.7" fill="#63a6de"/>
<rect x="96.7" y="297.1" width="11.2" height="4.8" fill="#cb0a7f"/>
<rect x="96.7" y="301.9" width="11.2" height="71.1" fill="#a30029"/>
<rect x="109.8" y="284.4" width="11.3" height="12.5" fill="#2d4a80"/>
<rect x="109.8" y="296.9" width="11.3" height="3.9" fill="#63a6de"/>
<rect x="109.8" y="300.8" width="11.3" height="34.9" fill="#cb0a7f"/>
<rect x="109.8" y="335.7" width="11.3" height="37.3" fill="#a30029"/>
<rect x="122.9" y="284.4" width="10.9" height="1.7" fill="#8f7ec0"/>
<rect x="122.9" y="286.1" width="10.9" height="5.1" fill="#2d4a80"/>
<rect x="122.9" y="291.2" width="10.9" height="3.7" fill="#63a6de"/>
<rect x="122.9" y="294.9" width="10.9" height="33.3" fill="#cb0a7f"/>
<rect x="122.9" y="328.2" width="10.9" height="44.8" fill="#a30029"/>
<rect x="139" y="284.4" width="10.9" height="4.5" fill="#8f7ec0"/>
<rect x="139" y="288.9" width="10.9" height="2.8" fill="#2d4a80"/>
<rect x="139" y="291.7" width="10.9" height="6.3" fill="#63a6de"/>
<rect x="139" y="298" width="10.9" height="53.2" fill="#cb0a7f"/>
<rect x="139" y="351.2" width="10.9" height="21.8" fill="#a30029"/>
<rect x="152" y="284.4" width="10.9" height="3.5" fill="#8f7ec0"/>
<rect x="152" y="287.9" width="10.9" height="1" fill="#2d4a80"/>
<rect x="152" y="288.9" width="10.9" height="1.6" fill="#63a6de"/>
<rect x="152" y="290.5" width="10.9" height="64.1" fill="#cb0a7f"/>
<rect x="152" y="354.6" width="10.9" height="18.4" fill="#a30029"/>
<rect x="164.9" y="284.4" width="10.9" height="18.3" fill="#8f7ec0"/>
<rect x="164.9" y="302.7" width="10.9" height="5" fill="#2d4a80"/>
<rect x="164.9" y="307.7" width="10.9" height="5.5" fill="#63a6de"/>
<rect x="164.9" y="313.2" width="10.9" height="40.5" fill="#cb0a7f"/>
<rect x="164.9" y="353.7" width="10.9" height="19.3" fill="#a30029"/>
<rect x="180.7" y="284.4" width="10.8" height="17.2" fill="#8f7ec0"/>
<rect x="180.7" y="301.6" width="10.8" height="71.4" fill="#2d4a80"/>
<rect x="193.1" y="284.4" width="11.7" height="28.8" fill="#8f7ec0"/>
<rect x="193.1" y="313.2" width="11.7" height="2" fill="#e08a1c"/>
<rect x="193.1" y="315.2" width="11.7" height="25" fill="#2d4a80"/>
<rect x="193.1" y="340.2" width="11.7" height="0.7" fill="#4b5266"/>
<rect x="193.1" y="340.9" width="11.7" height="15.1" fill="#63a6de"/>
<rect x="193.1" y="356" width="11.7" height="8.6" fill="#cb0a7f"/>
<rect x="193.1" y="364.6" width="11.7" height="8.4" fill="#a30029"/>
<rect x="206.3" y="284.4" width="11.7" height="2.4" fill="#e08a1c"/>
<rect x="206.3" y="286.8" width="11.7" height="42.1" fill="#2d4a80"/>
<rect x="206.3" y="328.9" width="11.7" height="0.9" fill="#4b5266"/>
<rect x="206.3" y="329.8" width="11.7" height="28.8" fill="#63a6de"/>
<rect x="206.3" y="358.6" width="11.7" height="14.4" fill="#a30029"/>
<rect x="219.8" y="284.4" width="10.5" height="7.8" fill="#2d4a80"/>
<rect x="219.8" y="292.2" width="10.5" height="5.7" fill="#63a6de"/>
<rect x="219.8" y="297.9" width="10.5" height="31" fill="#cb0a7f"/>
<rect x="219.8" y="328.9" width="10.5" height="44.1" fill="#a30029"/>
<rect x="57.35" y="284.4" width="77.05" height="88.6" fill="none" stroke="#000" stroke-width="1.3"/>
<text transform="translate(95.88,279.6) scale(0.9268,1)" font-size="6.3" text-anchor="middle" fill="#000">P1 (PD31013)</text>
<rect x="138.6" y="284.4" width="38" height="88.6" fill="none" stroke="#000" stroke-width="1.3"/>
<text transform="translate(157.6,279.6) scale(0.9268,1)" font-size="6.3" text-anchor="middle" fill="#000">P2 (PD42747)</text>
<rect x="179.9" y="284.4" width="51.1" height="88.6" fill="none" stroke="#000" stroke-width="1.3"/>
<text transform="translate(205.45,279.6) scale(0.9268,1)" font-size="6.3" text-anchor="middle" fill="#000">P3 (PD34954)</text>
<line x1="53.7" y1="284.4" x2="57.35" y2="284.4" stroke="#000" stroke-width="1.2"/>
<text transform="translate(50.5,286)" font-size="6" text-anchor="end" fill="#000">1.00</text>
<line x1="53.7" y1="306.55" x2="57.35" y2="306.55" stroke="#000" stroke-width="1.2"/>
<text transform="translate(50.5,308.15)" font-size="6" text-anchor="end" fill="#000">0.75</text>
<line x1="53.7" y1="328.7" x2="57.35" y2="328.7" stroke="#000" stroke-width="1.2"/>
<text transform="translate(50.5,330.3)" font-size="6" text-anchor="end" fill="#000">0.50</text>
<line x1="53.7" y1="350.85" x2="57.35" y2="350.85" stroke="#000" stroke-width="1.2"/>
<text transform="translate(50.5,352.45)" font-size="6" text-anchor="end" fill="#000">0.25</text>
<line x1="53.7" y1="373" x2="57.35" y2="373" stroke="#000" stroke-width="1.2"/>
<text transform="translate(50.5,374.6)" font-size="6" text-anchor="end" fill="#000">0.00</text>
<text transform="translate(32.9,328.2) rotate(-90) scale(0.8092,1)" font-size="8.2" text-anchor="middle" fill="#000">Proportion of mutations</text>
<line x1="63.4" y1="373.6" x2="63.4" y2="376.4" stroke="#111" stroke-width="1.1"/>
<text transform="translate(64.8,381.1) rotate(-45)" font-size="6.3" text-anchor="end" fill="#000">P1 DNM</text>
<line x1="75.9" y1="373.6" x2="75.9" y2="376.4" stroke="#111" stroke-width="1.1"/>
<text transform="translate(77.3,381.1) rotate(-45)" font-size="6.3" text-anchor="end" fill="#000">NB</text>
<line x1="88.95" y1="373.6" x2="88.95" y2="376.4" stroke="#111" stroke-width="1.1"/>
<text transform="translate(90.35,381.1) rotate(-45)" font-size="6.3" text-anchor="end" fill="#000">Clone 1</text>
<line x1="102.3" y1="373.6" x2="102.3" y2="376.4" stroke="#111" stroke-width="1.1"/>
<text transform="translate(103.7,381.1) rotate(-45)" font-size="6.3" text-anchor="end" fill="#000">Clone 2</text>
<line x1="115.45" y1="373.6" x2="115.45" y2="376.4" stroke="#111" stroke-width="1.1"/>
<text transform="translate(116.85,381.1) rotate(-45)" font-size="6.3" text-anchor="end" fill="#000">P1 autograft</text>
<line x1="128.35" y1="373.6" x2="128.35" y2="376.4" stroke="#111" stroke-width="1.1"/>
<text transform="translate(129.75,381.1) rotate(-45)" font-size="6.3" text-anchor="end" fill="#000">t-MDS</text>
<line x1="144.45" y1="373.6" x2="144.45" y2="376.4" stroke="#111" stroke-width="1.1"/>
<text transform="translate(145.85,381.1) rotate(-45)" font-size="6.3" text-anchor="end" fill="#000">P2 autograft</text>
<line x1="157.45" y1="373.6" x2="157.45" y2="376.4" stroke="#111" stroke-width="1.1"/>
<text transform="translate(158.85,381.1) rotate(-45)" font-size="6.3" text-anchor="end" fill="#000">t-AML</text>
<line x1="170.35" y1="373.6" x2="170.35" y2="376.4" stroke="#111" stroke-width="1.1"/>
<text transform="translate(171.75,381.1) rotate(-45)" font-size="6.3" text-anchor="end" fill="#000">Remission CH</text>
<line x1="186.1" y1="373.6" x2="186.1" y2="376.4" stroke="#111" stroke-width="1.1"/>
<text transform="translate(187.5,381.1) rotate(-45)" font-size="6.3" text-anchor="end" fill="#000">P3 DNM</text>
<line x1="198.95" y1="373.6" x2="198.95" y2="376.4" stroke="#111" stroke-width="1.1"/>
<text transform="translate(200.35,381.1) rotate(-45)" font-size="6.3" text-anchor="end" fill="#000">NB (Rt)</text>
<line x1="212.15" y1="373.6" x2="212.15" y2="376.4" stroke="#111" stroke-width="1.1"/>
<text transform="translate(213.55,381.1) rotate(-45)" font-size="6.3" text-anchor="end" fill="#000">NB (Lt)</text>
<line x1="225.05" y1="373.6" x2="225.05" y2="376.4" stroke="#111" stroke-width="1.1"/>
<text transform="translate(226.45,381.1) rotate(-45)" font-size="6.3" text-anchor="end" fill="#000">CH</text>
<text transform="translate(243.9,279.7) scale(0.8778,1)" font-size="6.6" text-anchor="start" fill="#000">Signature</text>
<rect x="240.1" y="284.3" width="9.8" height="9.6" fill="#8f7ec0"/>
<text transform="translate(253,291.5) scale(0.7940,1)" font-size="6.6" text-anchor="start" fill="#000">SBS1</text>
<rect x="240.1" y="297.45" width="9.8" height="9.6" fill="#e08a1c"/>
<text transform="translate(253,304.65) scale(0.7940,1)" font-size="6.6" text-anchor="start" fill="#000">SBS2</text>
<rect x="240.1" y="310.6" width="9.8" height="9.6" fill="#2d4a80"/>
<text transform="translate(253,317.8) scale(0.7940,1)" font-size="6.6" text-anchor="start" fill="#000">SBS5</text>
<rect x="240.1" y="323.75" width="9.8" height="9.6" fill="#4b5266"/>
<text transform="translate(253,330.95) scale(0.8273,1)" font-size="6.6" text-anchor="start" fill="#000">SBS13</text>
<rect x="240.1" y="336.9" width="9.8" height="9.6" fill="#63a6de"/>
<text transform="translate(253,344.1) scale(0.8273,1)" font-size="6.6" text-anchor="start" fill="#000">SBS18</text>
<rect x="240.1" y="350.05" width="9.8" height="9.6" fill="#cb0a7f"/>
<text transform="translate(253,357.25) scale(0.8273,1)" font-size="6.6" text-anchor="start" fill="#000">SBS31</text>
<rect x="240.1" y="363.2" width="9.8" height="9.6" fill="#a30029"/>
<text transform="translate(253,370.4) scale(0.8273,1)" font-size="6.6" text-anchor="start" fill="#000">SBS35</text>
<rect x="0.6" y="0.6" width="518.6" height="415.6" fill="none" stroke="#000" stroke-width="1.3"/>
</svg>
</body></html>
